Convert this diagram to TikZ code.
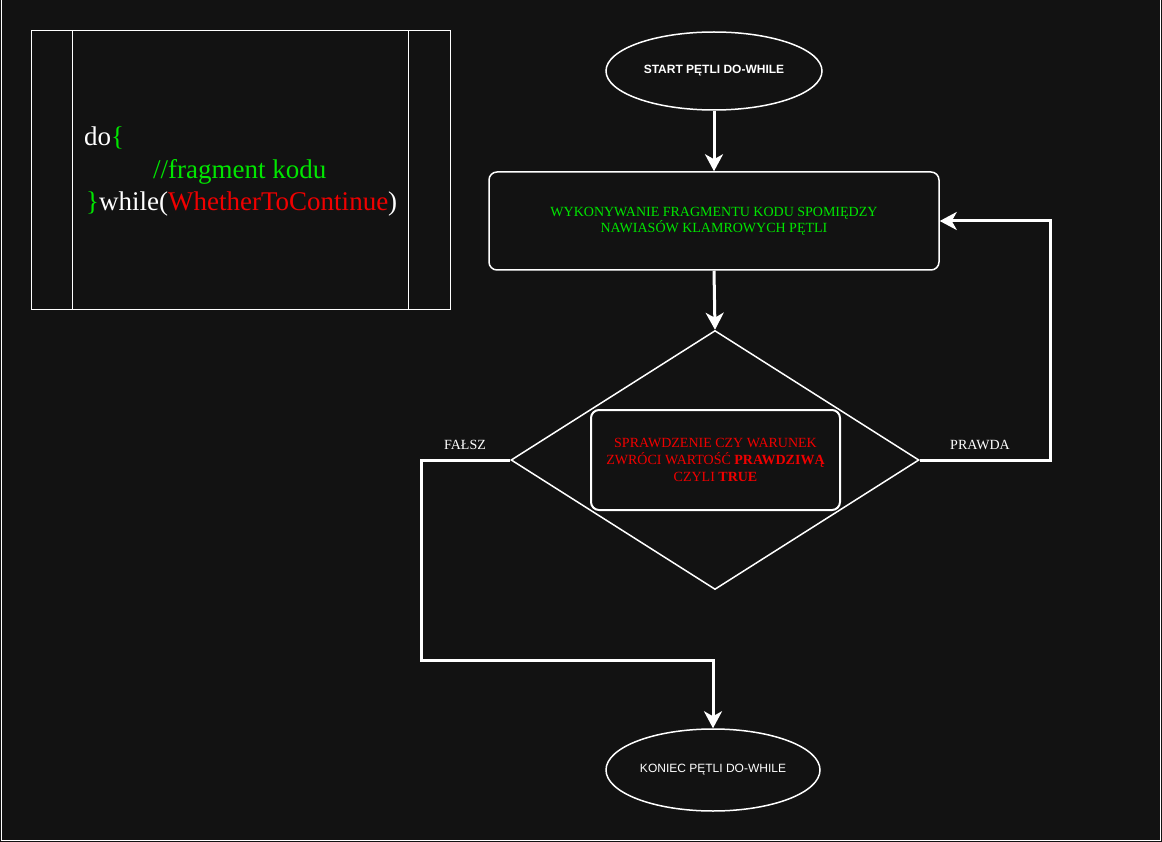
\documentclass[tikz,border=0pt]{standalone}
\usepackage{fontspec}
\setmainfont{Liberation Serif}
\newfontfamily\arialf{Liberation Sans}
\usetikzlibrary{shapes.geometric,arrows.meta}
\definecolor{bg}{HTML}{121212}
\definecolor{cgreen}{HTML}{00E600}
\definecolor{cred}{HTML}{F00000}
\tikzset{
  conn/.style={draw=white,line width=3pt,-{Stealth[length=17pt,width=18pt,inset=5pt]}},
  ell/.style={ellipse,draw=white,line width=1.5pt,inner sep=0pt,text=white,font=\arialf\fontsize{12}{14}\selectfont},
  procbox/.style={rectangle,rounded corners=8pt,draw=white,line width=1.5pt,inner sep=0pt,align=center},
  lbl/.style={text=white,font=\fontsize{14}{16}\selectfont,inner sep=0pt},
  code/.style={anchor=base west,inner sep=0pt,font=\fontsize{27}{32}\selectfont}
}
\begin{document}
\begin{tikzpicture}[x=1pt,y=-1pt]
\useasboundingbox (0,0) rectangle (1162,842);
\fill[bg] (0,0) rectangle (1162,842);
\draw[white,line width=1pt] (1,-3) -- (1,840) -- (1160,840) -- (1160,-3);

% code box
\draw[white,line width=1pt] (31,31) rectangle (450,310);
\draw[white,line width=1pt] (72,31) -- (72,310);
\draw[white,line width=1pt] (408,31) -- (408,310);
\node[code] (c1) at (84,146) {\textcolor{white}{do}\textcolor{cgreen}{\{}};
\node[code] (c2) at (153,178.5) {\textcolor{cgreen}{//fragment kodu}};
\node[code] (c3) at (86,211) {\textcolor{cgreen}{\}}\textcolor{white}{while(}\textcolor{cred}{WhetherToContinue}\textcolor{white}{)}};

% flowchart
\node[ell,minimum width=216pt,minimum height=78pt,font=\arialf\bfseries\fontsize{12}{14}\selectfont] (start) at (714,71) {START PĘTLI DO-WHILE};
\node[procbox,minimum width=450pt,minimum height=98pt,text=cgreen,font=\fontsize{14}{16}\selectfont] (rect) at (714,221) {WYKONYWANIE FRAGMENTU KODU SPOMIĘDZY\\NAWIASÓW KLAMROWYCH PĘTLI};
\node[diamond,draw=white,line width=1.5pt,inner sep=0pt,minimum width=408pt,minimum height=259pt] (dia) at (715,460) {};
\node[procbox,line width=2pt,minimum width=249pt,minimum height=100pt,text=cred,font=\fontsize{14}{17}\selectfont] (cond) at (715.5,460) {SPRAWDZENIE CZY WARUNEK\\ZWRÓCI WARTOŚĆ \textbf{PRAWDZIWĄ}\\CZYLI \textbf{TRUE}};
\node[ell,minimum width=214pt,minimum height=82pt] (end) at (713,770) {KONIEC PĘTLI DO-WHILE};

\coordinate (prc) at (1050,221);
\coordinate (fac) at (421,660);

\draw[conn] (start.south) -- (rect.north);
\draw[conn] (rect.south) -- (dia.north);
\draw[conn] (dia.east) -| (prc) -- (rect.east);
\draw[conn] (dia.west) -| (fac) -| (end.north);

\node[lbl] (lf) at (465,445) {FAŁSZ};
\node[lbl] (lp) at (980,445) {PRAWDA};
\end{tikzpicture}
\end{document}
